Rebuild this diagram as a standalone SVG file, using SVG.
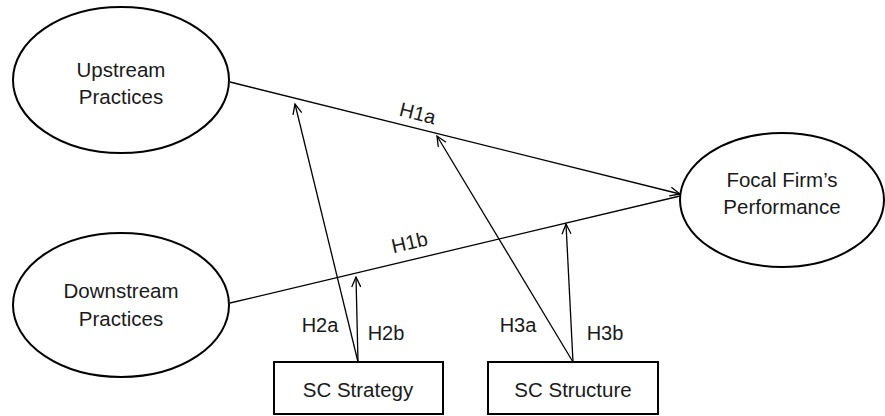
<svg xmlns="http://www.w3.org/2000/svg" width="885" height="416" viewBox="0 0 885 416">
<style>
.node{fill:#fff;stroke:#000;stroke-width:2}
.t{font-family:"Liberation Sans",Arial,sans-serif;font-size:20.5px;fill:#1a1a1a;text-anchor:middle}
.h{font-family:"Liberation Sans",Arial,sans-serif;font-size:20px;fill:#1a1a1a;text-anchor:middle}
.c{stroke:#000;stroke-width:1.3;fill:none}
</style>
<defs>
<marker id="arr" viewBox="-12 -6 14 12" refX="0" refY="0" markerWidth="14" markerHeight="12" markerUnits="userSpaceOnUse" orient="auto">
<path d="M-10,-4.5 L0,0 L-10,4.5" fill="none" stroke="#000" stroke-width="1.3"/>
</marker>
</defs>
<g id="connectors">
<line class="c" x1="230" y1="82" x2="680" y2="194" marker-end="url(#arr)"/>
<line class="c" x1="230" y1="303" x2="680" y2="196"/>
<line class="c" x1="358" y1="362" x2="295" y2="104" marker-end="url(#arr)"/>
<line class="c" x1="358" y1="362" x2="356" y2="277" marker-end="url(#arr)"/>
<line class="c" x1="573" y1="362" x2="437" y2="136" marker-end="url(#arr)"/>
<line class="c" x1="573" y1="362" x2="566" y2="224" marker-end="url(#arr)"/>
<text class="h" transform="translate(416,120) rotate(14)">H1a</text>
<text class="h" transform="translate(411,249) rotate(-13)">H1b</text>
<text class="h" x="320" y="332">H2a</text>
<text class="h" x="386" y="340">H2b</text>
<text class="h" x="518" y="332">H3a</text>
<text class="h" x="605" y="340">H3b</text>
</g>
<g id="upstream">
<ellipse class="node" cx="121" cy="80" rx="108" ry="73"/>
<text class="t" x="121" y="77">Upstream</text>
<text class="t" x="121" y="104">Practices</text>
</g>
<g id="downstream">
<ellipse class="node" cx="121" cy="305" rx="108" ry="72"/>
<text class="t" x="121" y="298">Downstream</text>
<text class="t" x="121" y="326">Practices</text>
</g>
<g id="focal">
<ellipse class="node" cx="782" cy="200" rx="102" ry="67"/>
<text class="t" x="782" y="187">Focal Firm’s</text>
<text class="t" x="782" y="214">Performance</text>
</g>
<g id="strategy">
<rect class="node" x="274" y="362" width="169" height="52"/>
<text class="t" x="358" y="397">SC Strategy</text>
</g>
<g id="structure">
<rect class="node" x="488" y="362" width="170" height="52"/>
<text class="t" x="573" y="397">SC Structure</text>
</g>
</svg>
